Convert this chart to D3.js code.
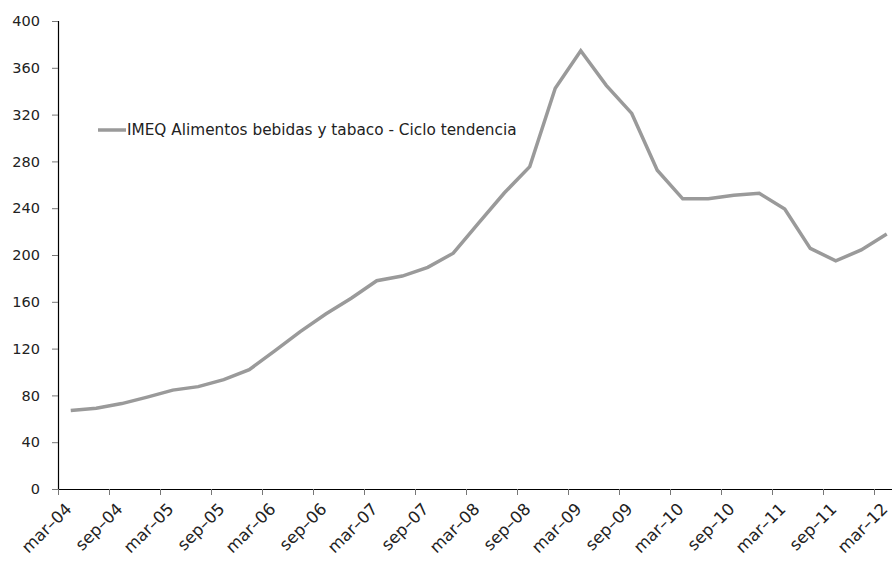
<!DOCTYPE html>
<html>
<head>
<meta charset="utf-8">
<script src="https://cdn.jsdelivr.net/npm/d3@7"></script>
<style>
  html, body { margin: 0; padding: 0; background: #fff; }
  svg { display: block; }
  text { font-family: "DejaVu Sans", Verdana, sans-serif; fill: #222; }
</style>
</head>
<body>
<svg id="chart" width="892" height="565"></svg>
<script>
// Quarterly periods, mar-04 .. mar-12
const quarters = [
  "mar-04","jun-04","sep-04","dic-04",
  "mar-05","jun-05","sep-05","dic-05",
  "mar-06","jun-06","sep-06","dic-06",
  "mar-07","jun-07","sep-07","dic-07",
  "mar-08","jun-08","sep-08","dic-08",
  "mar-09","jun-09","sep-09","dic-09",
  "mar-10","jun-10","sep-10","dic-10",
  "mar-11","jun-11","sep-11","dic-11",
  "mar-12"
];

// IMEQ Alimentos bebidas y tabaco - Ciclo tendencia
const imeqValues = [
  67, 69, 73, 78.5, 84.5, 87.5, 93.5, 102,
  118, 134.5, 149.5, 163, 178, 182, 189.5, 201.5,
  227.5, 253, 275.5, 342.5, 374.5, 345, 321, 272.5,
  248, 248, 251, 252.7, 239.3, 205.7, 195, 204.3,
  218
];

const yTicks = [0, 40, 80, 120, 160, 200, 240, 280, 320, 360, 400];
const xTickLabels = quarters.filter((q, i) => i % 2 === 0);

const seriesName = "IMEQ Alimentos bebidas y tabaco - Ciclo tendencia";

const svg = d3.select("#chart");

const plotLeft = 58, plotRight = 899.5, plotTop = 21, plotBottom = 489;

// Each quarter occupies one unit; values sit in the middle of their unit
const x = d3.scaleLinear().domain([0, quarters.length]).range([plotLeft, plotRight]);
const y = d3.scaleLinear().domain([0, 400]).range([plotBottom, plotTop]);

const fontStack = "\"DejaVu Sans\", Verdana, sans-serif";

// Y axis
const yAxis = svg.append("g")
  .attr("transform", `translate(${plotLeft},0)`)
  .call(d3.axisLeft(y).tickValues(yTicks).tickSize(6).tickPadding(12).tickFormat(d3.format("d")));
yAxis.select(".domain").attr("stroke", "#000").attr("stroke-width", 1.2);
yAxis.selectAll(".tick line").attr("stroke", "#777");
yAxis.selectAll(".tick text").attr("font-size", 14.5).attr("fill", "#222")
  .attr("font-family", fontStack);

// X axis: a tick every two quarters, on the quarter's left edge
const xTickIdx = d3.range(0, quarters.length, 2);
const xAxis = svg.append("g")
  .attr("transform", `translate(0,${plotBottom})`)
  .call(d3.axisBottom(x).tickValues(xTickIdx).tickSize(6).tickSizeOuter(0)
    .tickFormat(i => xTickLabels[i / 2].replace("-", "\u2013")));
xAxis.select(".domain").attr("stroke", "#000").attr("stroke-width", 1.2);
xAxis.selectAll(".tick line").attr("stroke", "#777");
xAxis.selectAll(".tick text")
  .attr("font-size", 16.5)
  .attr("fill", "#222")
  .attr("font-family", fontStack)
  .attr("text-anchor", "end")
  .attr("y", 0)
  .attr("dy", "0.35em")
  .attr("transform", "translate(10,17) rotate(-45)");

// Series line
const line = d3.line()
  .x((d, i) => x(i + 0.5))
  .y(d => y(d));

svg.append("path")
  .datum(imeqValues)
  .attr("fill", "none")
  .attr("stroke", "#9a9a9a")
  .attr("stroke-width", 3.5)
  .attr("stroke-linejoin", "miter")
  .attr("d", line);

// Legend
const legend = svg.append("g").attr("transform", "translate(98,130)");
legend.append("line")
  .attr("x1", 0).attr("x2", 28).attr("y1", 0).attr("y2", 0)
  .attr("stroke", "#9a9a9a").attr("stroke-width", 3.5);
legend.append("text")
  .attr("x", 29).attr("y", 0).attr("dy", "0.35em")
  .attr("font-size", 15.3)
  .attr("font-family", fontStack)
  .text(seriesName);
</script>
</body>
</html>
